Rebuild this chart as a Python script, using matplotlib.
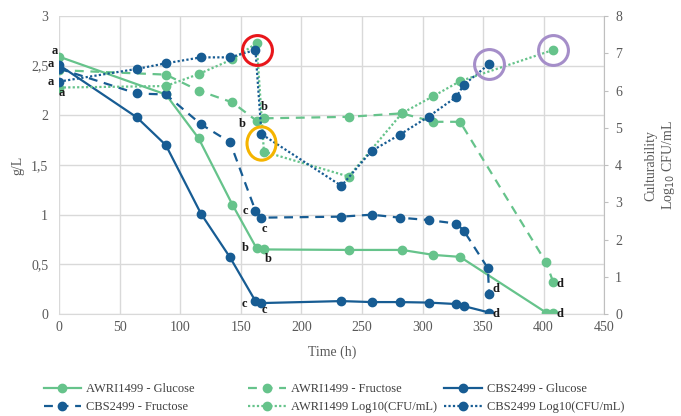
import matplotlib
matplotlib.use("Agg")
import matplotlib.pyplot as plt
from matplotlib.path import Path
from matplotlib.ticker import FuncFormatter
import numpy as np

# sampling times (h)
awri_time = [0, 88, 115, 143, 163, 169, 239, 283, 309, 331, 402, 408]
awri_log_time = [0, 88, 115, 143, 163, 169, 239, 283, 309, 331, 408]
cbs_time = [0, 64, 88, 117, 141, 162, 167, 233, 258, 281, 305, 328, 334, 355]
cbs_fru_time = [0, 64, 88, 117, 141, 162, 167, 233, 258, 281, 305, 328, 334, 354, 355]

# sugars (g/L)
awri_glucose = [2.59, 2.21, 1.77, 1.10, 0.66, 0.65, 0.645, 0.645, 0.595, 0.575, 0.015, 0.015]
awri_fructose = [2.455, 2.41, 2.25, 2.13, 1.945, 1.97, 1.985, 2.02, 1.935, 1.935, 0.52, 0.32]
cbs_glucose = [2.505, 1.98, 1.70, 1.01, 0.57, 0.13, 0.11, 0.13, 0.12, 0.12, 0.115, 0.10, 0.08, 0.015]
cbs_fructose = [2.47, 2.22, 2.21, 1.91, 1.73, 1.04, 0.97, 0.98, 1.0, 0.97, 0.946, 0.91, 0.84, 0.46, 0.20]

# culturability (log10 CFU/mL)
awri_log = [6.08, 6.12, 6.44, 6.84, 7.27, 4.36, 3.69, 5.39, 5.85, 6.25, 7.09]
cbs_log = [6.24, 6.58, 6.73, 6.89, 6.89, 7.09, 4.83, 3.44, 4.38, 4.81, 5.30, 5.83, 6.15, 6.71]

legend_labels = ["AWRI1499 - Glucose", "AWRI1499 - Fructose", "CBS2499 - Glucose",
                 "CBS2499 - Fructose", "AWRI1499 Log10(CFU/mL)", "CBS2499 Log10(CFU/mL)"]

GREEN = "#66c38b"
BLUE = "#175c93"
GREY = "#595959"

plt.rcParams["font.family"] = ["Liberation Serif", "DejaVu Serif"]

fig = plt.figure(figsize=(6.81, 4.16), dpi=100)
ax = fig.add_axes([0.0871, 0.2452, 0.8000, 0.7163])
ax2 = ax.twinx()

lw = 1.6
ms = 6
dashed = (0, (4, 3))
dotted = (0, (1, 1))

h1, = ax.plot(awri_time, awri_glucose, color=GREEN, lw=lw, marker="o", ms=ms)
h2, = ax.plot(awri_time, awri_fructose, color=GREEN, lw=lw, ls=dashed, marker="o", ms=ms)
h3, = ax.plot(cbs_time, cbs_glucose, color=BLUE, lw=lw, marker="o", ms=ms)
h4, = ax.plot(cbs_fru_time, cbs_fructose, color=BLUE, lw=lw, ls=dashed, marker="o", ms=ms)
h5, = ax2.plot(awri_log_time, awri_log, color=GREEN, lw=lw, ls=dotted, marker="o", ms=ms)
h6, = ax2.plot(cbs_time, cbs_log, color=BLUE, lw=lw, ls=dotted, marker="o", ms=ms)

# axes styling
ax.set_xlim(0, 450)
ax.set_ylim(0, 3)
ax2.set_ylim(0, 8)
ax.set_xticks(np.arange(0, 451, 50))
ax.set_yticks(np.arange(0, 3.01, 0.5))
ax2.set_yticks(np.arange(0, 9, 1))
ax.yaxis.set_major_formatter(FuncFormatter(lambda v, p: f"{v:g}".replace(".", ",")))
ax.grid(True, color="#d9d9d9", lw=1)
ax.set_axisbelow(True)
ax.tick_params(length=0, colors=GREY, labelsize=10)
ax.tick_params(axis="y", pad=8)
ax.tick_params(axis="x", pad=5)
ax2.tick_params(length=3, color="#bfbfbf", labelcolor=GREY, labelsize=10, pad=5)
for s in ["top", "left", "right"]:
    ax.spines[s].set_visible(False)
    ax2.spines[s].set_visible(False)
ax2.spines["bottom"].set_visible(False)
ax2.spines["right"].set_visible(True)
ax2.spines["right"].set_color("#bfbfbf")
ax.spines["bottom"].set_color("#d9d9d9")

ax.set_xlabel("Time (h)", color=GREY, fontsize=10, labelpad=8)
ax.set_ylabel("g/L", color=GREY, fontsize=10, labelpad=5)
ax2.set_ylabel("Culturability\nLog$_{10}$ CFU/mL", color=GREY, fontsize=10, labelpad=16)


# significance letters
def letter(axis, x, y, s, dx, dy):
    axis.annotate(s, (x, y), xytext=(dx, dy), textcoords="offset points",
                  ha="center", va="center", fontsize=9, fontweight="bold",
                  color="#1a1a1a")


letter(ax, awri_time[0], awri_glucose[0], "a", -3, 4)
letter(ax, cbs_time[0], cbs_glucose[0], "a", -6, 1)
letter(ax2, cbs_time[0], cbs_log[0], "a", -6, 0)
letter(ax2, awri_log_time[0], awri_log[0], "a", 2, -4)
letter(ax, awri_time[4], awri_fructose[4], "b", -10, -2)
letter(ax, awri_time[5], awri_fructose[5], "b", 0, 8)
letter(ax, awri_time[4], awri_glucose[4], "b", -8, 0)
letter(ax, awri_time[5], awri_glucose[5], "b", 3, -7)
letter(ax, cbs_time[5], cbs_fructose[5], "c", -7, 0)
letter(ax, cbs_time[6], cbs_fructose[6], "c", 2, -8)
letter(ax, cbs_time[5], cbs_glucose[5], "c", -8, -2)
letter(ax, cbs_time[6], cbs_glucose[6], "c", 2, -5)
letter(ax, cbs_fru_time[-1], cbs_fructose[-1], "d", 5, 4)
letter(ax, cbs_time[-1], cbs_glucose[-1], "d", 5, -1)
letter(ax, awri_time[-1], awri_fructose[-1], "d", 5, -1)
letter(ax, awri_time[-1], awri_glucose[-1], "d", 5, -1)

# highlight rings
ring = dict(marker="o", mfc="none", ms=21.5, mew=2.2, ls="none", zorder=5)
ax2.plot([cbs_time[5] + 1.5], [cbs_log[5]], mec="#e8161b", **ring)
ax2.plot([cbs_time[-1]], [cbs_log[-1]], mec="#a58ec9", **ring)
ax2.plot([awri_log_time[-1]], [awri_log[-1]], mec="#a58ec9", **ring)
circ = Path.unit_circle()
oval = Path(circ.vertices * [1.0, 1.15], circ.codes)
ax2.plot([cbs_time[6]], [(cbs_log[6] + awri_log[5]) / 2], marker=oval, mfc="none",
         ms=24, mew=2.2, mec="#f5b400", ls="none", zorder=5)

# legend laid out in three columns
handles = [h1, h2, h3, h4, h5, h6]
col_x = [0.055, 0.355, 0.643]
for i, x in enumerate(col_x):
    fig.legend([handles[i], handles[i + 3]], [legend_labels[i], legend_labels[i + 3]],
               loc="upper left", bbox_to_anchor=(x, 0.094), frameon=False,
               fontsize=9, handlelength=3.0, handletextpad=0.4, labelspacing=0.5,
               borderpad=0, labelcolor="#404040")

fig.savefig("out.png", dpi=100)
